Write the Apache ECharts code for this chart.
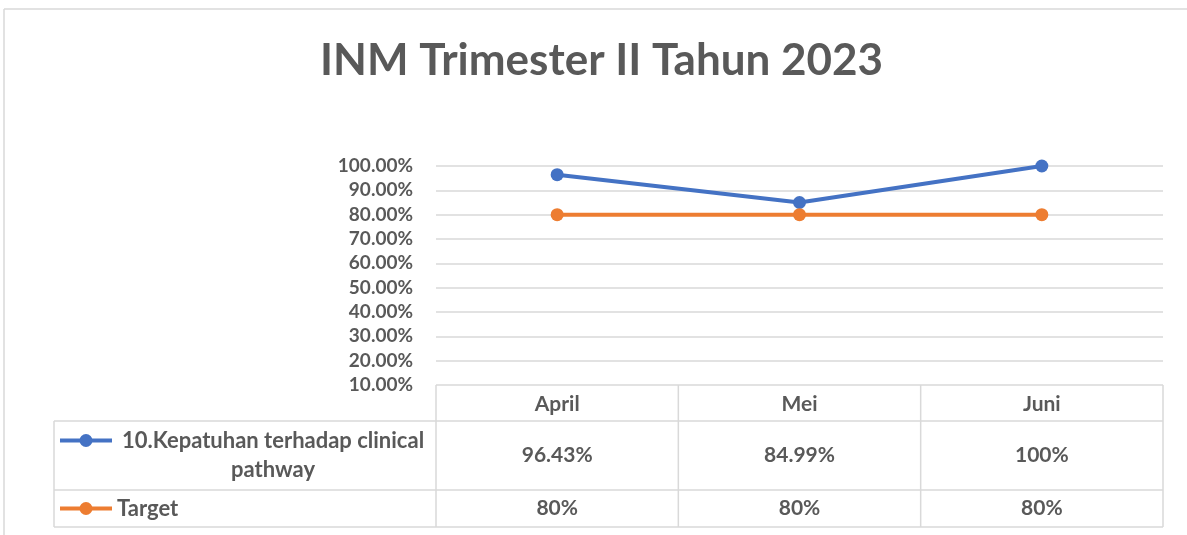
<!DOCTYPE html>
<html>
<head>
<meta charset="utf-8">
<script src="https://cdn.jsdelivr.net/npm/echarts@6/dist/echarts.min.js"></script>
<style>
  html, body { margin: 0; padding: 0; background: #fff; }
  #chart { width: 1187px; height: 535px; }
</style>
</head>
<body>
<div id="chart"></div>
<script>
// data
var months = ['April', 'Mei', 'Juni'];
var seriesNames = ['10.Kepatuhan terhadap clinical\npathway', 'Target'];
var kepatuhan = [96.43, 84.99, 100];
var target = [80, 80, 80];
var yTicks = [10, 20, 30, 40, 50, 60, 70, 80, 90, 100];

var colors = ['#4472C4', '#ED7D31'];
var textColor = '#595959';
var lineColor = '#D9D9D9';
var font = 'Lato';

// layout of plot and data table
var gridLeft = 436, gridRight = 1163, gridTop = 166, gridBottom = 385;
var tableLeft = 54;
var rowLines = [421, 490, 527];
var colW = (gridRight - gridLeft) / months.length;

function fmt(v) {
    return Number.isInteger(v) ? v + '%' : v.toFixed(2) + '%';
}

var graphics = [];
function hline(x1, x2, y) {
    graphics.push({ type: 'line', shape: { x1: x1, y1: y, x2: x2, y2: y }, style: { stroke: lineColor, lineWidth: 1.5 }, silent: true });
}
function vline(x, y1, y2) {
    graphics.push({ type: 'line', shape: { x1: x, y1: y1, x2: x, y2: y2 }, style: { stroke: lineColor, lineWidth: 1.5 }, silent: true });
}

// outer border of chart
hline(4, 1187, 9);
vline(4, 9, 535);

// table grid
rowLines.forEach(function (y) { hline(tableLeft, gridRight, y); });
vline(tableLeft, rowLines[0], rowLines[2]);
for (var i = 0; i <= months.length; i++) {
    vline(gridLeft + colW * i, gridBottom, rowLines[2]);
}

// table rows: legend key + values
var rowData = [kepatuhan, target];
var rowTop = [rowLines[0], rowLines[1]];
var rowBot = [rowLines[1], rowLines[2]];
rowData.forEach(function (data, r) {
    var cy = (rowTop[r] + rowBot[r]) / 2;
    var ky = r === 0 ? cy - 15 : cy;
    graphics.push({ type: 'line', shape: { x1: 60, y1: ky, x2: 112, y2: ky }, style: { stroke: colors[r], lineWidth: 4 }, silent: true });
    graphics.push({ type: 'circle', shape: { cx: 86, cy: ky, r: 6.5 }, style: { fill: colors[r] }, silent: true });
    graphics.push({
        type: 'text', x: r === 0 ? 273 : 117, y: cy,
        style: { text: seriesNames[r], align: r === 0 ? 'center' : 'left', verticalAlign: 'middle', fill: textColor, font: 'bold 22px ' + font, lineHeight: 29 },
        silent: true
    });
    data.forEach(function (v, c) {
        graphics.push({
            type: 'text', x: gridLeft + colW * (c + 0.5), y: cy,
            style: { text: fmt(v), align: 'center', verticalAlign: 'middle', fill: textColor, font: 'bold 21px ' + font },
            silent: true
        });
    });
});

var chart = echarts.init(document.getElementById('chart'));
var option = {
    backgroundColor: '#fff',
    animation: false,
    title: {
        text: 'INM Trimester II Tahun 2023',
        left: 315,
        top: 34,
        textStyle: { fontFamily: font, fontSize: 44, fontWeight: 'bold', color: textColor }
    },
    grid: { left: gridLeft, right: 1187 - gridRight, top: gridTop, bottom: 535 - gridBottom },
    xAxis: {
        type: 'category',
        data: months,
        boundaryGap: true,
        axisLine: { show: false },
        axisTick: { show: false },
        axisLabel: { margin: 9, color: textColor, fontFamily: font, fontWeight: 'bold', fontSize: 21 }
    },
    yAxis: {
        type: 'value',
        min: yTicks[0],
        max: yTicks[yTicks.length - 1],
        interval: 10,
        axisLine: { show: false },
        axisTick: { show: false },
        splitLine: { lineStyle: { color: lineColor, width: 1.5 } },
        axisLabel: {
            margin: 23,
            color: textColor, fontFamily: font, fontWeight: 'bold', fontSize: 19,
            formatter: function (v) { return v.toFixed(2) + '%'; }
        }
    },
    series: [
        {
            name: seriesNames[0], type: 'line', data: kepatuhan,
            symbol: 'circle', symbolSize: 13,
            lineStyle: { color: colors[0], width: 4 },
            itemStyle: { color: colors[0] }
        },
        {
            name: seriesNames[1], type: 'line', data: target,
            symbol: 'circle', symbolSize: 13,
            lineStyle: { color: colors[1], width: 4 },
            itemStyle: { color: colors[1] }
        }
    ],
    graphic: graphics
};
chart.setOption(option);
</script>
</body>
</html>
